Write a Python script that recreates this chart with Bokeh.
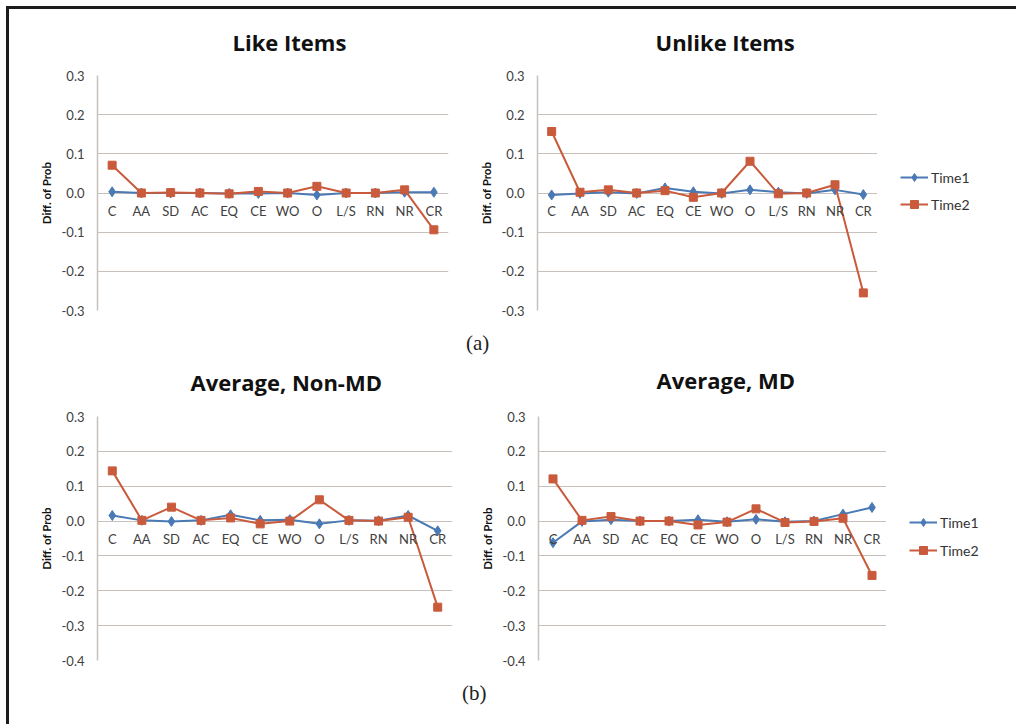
from bokeh.plotting import figure
from bokeh.models import (FactorRange, Range1d, FixedTicker, NumeralTickFormatter,
                          Legend, LegendItem, Title, Div, Spacer)
from bokeh.layouts import row, column
from bokeh.embed import file_html
from bokeh.resources import INLINE

# ---------------- data ----------------
categories = ["C", "AA", "SD", "AC", "EQ", "CE", "WO", "O", "L/S", "RN", "NR", "CR"]

like_time1 = [0.003, 0.0, 0.0, 0.0, -0.001, -0.001, 0.0, -0.005, 0.0, 0.0, 0.002, 0.002]
like_time2 = [0.071, 0.0, 0.001, 0.0, -0.002, 0.004, 0.0, 0.017, 0.0, 0.0, 0.008, -0.094]

unlike_time1 = [-0.005, -0.001, 0.002, -0.001, 0.013, 0.003, -0.001, 0.008, 0.002, -0.001, 0.008, -0.004]
unlike_time2 = [0.157, 0.002, 0.008, 0.0, 0.006, -0.011, 0.0, 0.081, -0.002, 0.0, 0.021, -0.255]

nonmd_time1 = [0.016, 0.002, -0.001, 0.002, 0.018, 0.002, 0.004, -0.008, 0.002, 0.001, 0.016, -0.028]
nonmd_time2 = [0.144, 0.002, 0.040, 0.002, 0.009, -0.008, 0.0, 0.061, 0.002, 0.0, 0.011, -0.247]

md_time1 = [-0.062, -0.001, 0.004, 0.0, 0.0, 0.004, -0.002, 0.005, -0.002, 0.0, 0.020, 0.039]
md_time2 = [0.121, 0.002, 0.013, 0.0, 0.0, -0.011, -0.003, 0.035, -0.004, -0.001, 0.008, -0.156]

yticks_top = [-0.3, -0.2, -0.1, 0.0, 0.1, 0.2, 0.3]
yticks_bottom = [-0.4, -0.3, -0.2, -0.1, 0.0, 0.1, 0.2, 0.3]

titles = ["Like Items", "Unlike Items", "Average, Non-MD", "Average, MD"]
series_names = ["Time1", "Time2"]
y_label = "Diff. of Prob"
sub_labels = ["(a)", "(b)"]

# ---------------- style ----------------
BLUE = "#4a7ab5"
RED = "#c95b3c"
GRID = "#c8c1bb"
TEXT = "#404040"
FONT = "Lato"
TITLE_FONT = "Open Sans"


def add_series(p, t1, t2):
    l1 = p.line(categories, t1, line_color=BLUE, line_width=2)
    s1 = p.scatter(categories, t1, marker="diamond", size=10, color=BLUE)
    l2 = p.line(categories, t2, line_color=RED, line_width=2)
    s2 = p.scatter(categories, t2, marker="square", size=8, color=RED)
    return (l1, s1), (l2, s2)


def make_panel(title, t1, t2, ticks, width, height, mbl, mbr, mbt, mbb,
               title_offset, title_standoff, title_valign):
    p = figure(width=width, height=height,
               x_range=FactorRange(*categories),
               y_range=Range1d(ticks[0], ticks[-1]),
               output_backend="svg", toolbar_location=None,
               min_border_left=mbl, min_border_right=mbr,
               min_border_top=mbt, min_border_bottom=mbb)
    p.outline_line_color = None
    p.background_fill_color = "white"
    p.border_fill_color = None

    p.xgrid.grid_line_color = None
    p.ygrid.ticker = FixedTicker(ticks=ticks)
    p.ygrid.grid_line_color = GRID
    p.ygrid.grid_line_width = 1

    ya = p.yaxis[0]
    ya.ticker = FixedTicker(ticks=ticks)
    ya.formatter = NumeralTickFormatter(format="0.0")
    ya.axis_line_color = GRID
    ya.axis_line_width = 1.5
    ya.major_tick_line_color = None
    ya.minor_tick_line_color = None
    ya.major_tick_out = 0
    ya.major_tick_in = 0
    ya.major_label_standoff = 13
    ya.major_label_text_font = FONT
    ya.major_label_text_font_size = "13px"
    ya.major_label_text_color = TEXT
    ya.axis_label = y_label
    ya.axis_label_text_font = FONT
    ya.axis_label_text_font_size = "11.5px"
    ya.axis_label_text_font_style = "bold"
    ya.axis_label_text_color = "#111111"
    ya.axis_label_standoff = 6

    xa = p.xaxis[0]
    xa.fixed_location = 0
    xa.axis_line_color = None
    xa.major_tick_line_color = None
    xa.minor_tick_line_color = None
    xa.major_tick_out = 0
    xa.major_tick_in = 0
    xa.major_label_standoff = 10
    xa.major_label_text_font = FONT
    xa.major_label_text_font_size = "13px"
    xa.major_label_text_color = TEXT

    add_series(p, t1, t2)

    p.add_layout(Title(text=title, align="left", offset=title_offset,
                       vertical_align=title_valign,
                       text_font=TITLE_FONT, text_font_size="22px", text_font_style="bold",
                       text_color="#111111", standoff=title_standoff), "above")
    return p


def make_legend(t1, t2, width, height, x, y, spacing):
    # Legend-only figure: same series, drawn out of view, only the legend shows.
    p = figure(width=width, height=height,
               x_range=FactorRange(*categories), y_range=Range1d(1, 2),
               output_backend="svg", toolbar_location=None,
               x_axis_location=None, y_axis_location=None,
               min_border=0)
    p.grid.visible = False
    p.outline_line_color = None
    p.background_fill_color = None
    p.border_fill_color = None
    (l1, s1), (l2, s2) = add_series(p, t1, t2)
    leg = Legend(items=[LegendItem(label=series_names[0], renderers=[l1, s1]),
                        LegendItem(label=series_names[1], renderers=[l2, s2])],
                 location=(x, y), orientation="vertical",
                 glyph_width=28, glyph_height=20, label_height=20,
                 spacing=spacing, padding=0, margin=0, label_standoff=3,
                 border_line_color=None, background_fill_alpha=0,
                 label_text_font=FONT, label_text_font_size="14px",
                 label_text_color="#333333")
    p.add_layout(leg)
    return p


p1 = make_panel(titles[0], like_time1, like_time2, yticks_top,
                461, 309, 88, 22, 63, 8, 135, 34, "top")
p2 = make_panel(titles[1], unlike_time1, unlike_time2, yticks_top,
                407, 309, 67, 0, 63, 8, 118, 34, "top")
lg2 = make_legend(unlike_time1, unlike_time2, 129, 309, 23, 96, 7)
p3 = make_panel(titles[2], nonmd_time1, nonmd_time2, yticks_bottom,
                461, 326, 88, 18, 72, 8, 93, 39, "bottom")
p4 = make_panel(titles[3], md_time1, md_time2, yticks_bottom,
                416, 326, 68, 0, 68, 10, 118, 39, "top")
lg4 = make_legend(md_time1, md_time2, 120, 326, 23, 100, 8)

div_a = row(Spacer(width=457, height=26),
            Div(text=sub_labels[0], width=60, height=26, margin=0,
                styles={"font-family": "Liberation Serif", "font-size": "21px",
                        "line-height": "50px", "color": "#222222"}))
div_b = row(Spacer(width=453, height=54),
            Div(text=sub_labels[1], width=60, height=54, margin=0,
                styles={"font-family": "Liberation Serif", "font-size": "21px",
                        "line-height": "46px", "color": "#222222"}))

content = column(row(p1, p2, lg2), div_a, row(p3, p4, lg4), div_b)
top_bar = Div(text="", width=1010, height=3, margin=0,
              styles={"background-color": "#1c1c1c"})
left_bar = Div(text="", width=3, height=715, margin=0,
               styles={"background-color": "#1c1c1c"})
layout = column(Spacer(width=10, height=6),
                row(Spacer(width=6, height=10),
                    column(top_bar, row(left_bar, content))))

open("out.html", "w").write(file_html(layout, INLINE))
